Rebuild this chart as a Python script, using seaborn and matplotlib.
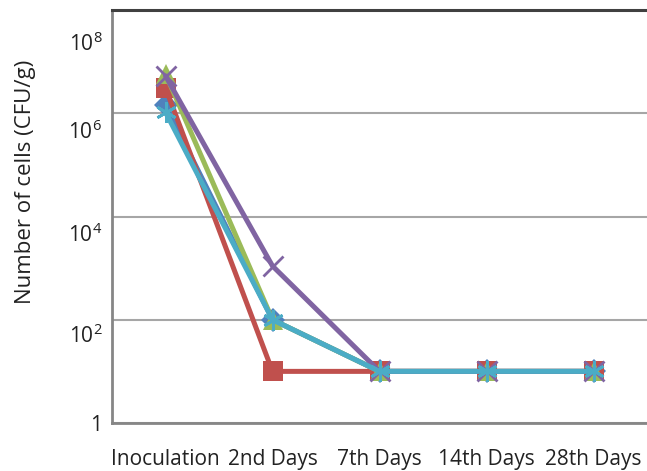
import pandas as pd
import seaborn as sns
import matplotlib.pyplot as plt
from matplotlib.transforms import ScaledTranslation

# sampling days and cell counts (CFU/g) per treatment
days = ["Inoculation", "2nd Days", "7th Days", "14th Days", "28th Days"]
series_names = ["S1", "S2", "S3", "S4", "S5"]
s1 = [1.45e6, 100, 10, 10, 10]
s2 = [3.1e6, 10, 10, 10, 10]
s3 = [5.8e6, 100, 10, 10, 10]
s4 = [5.3e6, 1.1e3, 10, 10, 10]
s5 = [1.05e6, 100, 10, 10, 10]
all_values = [s1, s2, s3, s4, s5]

colors = ["#4F81BD", "#C0504D", "#9BBB59", "#8064A2", "#4BACC6"]
markers = ["D", "s", "^", "x", (6, 2, 0)]
msizes = [12, 14, 14, 15, 15]

sns.set_style("white")
plt.rcParams['font.family'] = ['Open Sans', 'DejaVu Sans']
plt.rcParams['mathtext.fontset'] = 'custom'
plt.rcParams['mathtext.rm'] = 'Open Sans'

fig = plt.figure(figsize=(6.47, 4.71), dpi=100)
ax = fig.add_axes([112 / 647, 48 / 471, 535 / 647, 413 / 471])

for name, vals, c, m, ms in zip(series_names, all_values, colors, markers, msizes):
    df = pd.DataFrame({"day": days, "cells": vals})
    sns.lineplot(data=df, x="day", y="cells", ax=ax, color=c, marker=m,
                 markersize=ms, markeredgewidth=2 if m in ("x", (6, 2, 0)) else 0,
                 markeredgecolor=c, linewidth=3.6, sort=False)

ax.set_yscale('log')
ax.set_ylim(1, 1e8)
ax.set_xlim(-0.5, 4.5)
ax.minorticks_off()
ax.set_yticks([1, 1e2, 1e4, 1e6, 1e8])
ax.set_yticklabels(['1', r'$10^2$', r'$10^4$', r'$10^6$', r'$10^8$'])
ax.yaxis.grid(True, color='#a6a6a6', linewidth=1.5)
ax.set_axisbelow(True)

ax.tick_params(axis='y', length=5, width=1.2, color='#a6a6a6', pad=2,
               labelsize=15, labelcolor='#222222')
ax.tick_params(axis='x', length=0, pad=19, labelsize=15, labelcolor='#222222')

# Excel-style offset of the power labels below their gridline
for lab, dy in zip(ax.get_yticklabels(), [0, -14, -16, -16, -32]):
    lab.set_transform(lab.get_transform() + ScaledTranslation(0, dy / 100, fig.dpi_scale_trans))

ax.set_xlabel("")
ax.set_ylabel("Number of cells (CFU/g)", fontsize=16, color='#222222')
ax.yaxis.set_label_coords(-0.142, 0.584)

for side in ['left', 'bottom']:
    ax.spines[side].set_color('#868686')
    ax.spines[side].set_linewidth(2)
ax.spines['top'].set_color('#404040')
ax.spines['top'].set_linewidth(2.2)
ax.spines['right'].set_visible(False)

fig.savefig("out.png", dpi=100)
